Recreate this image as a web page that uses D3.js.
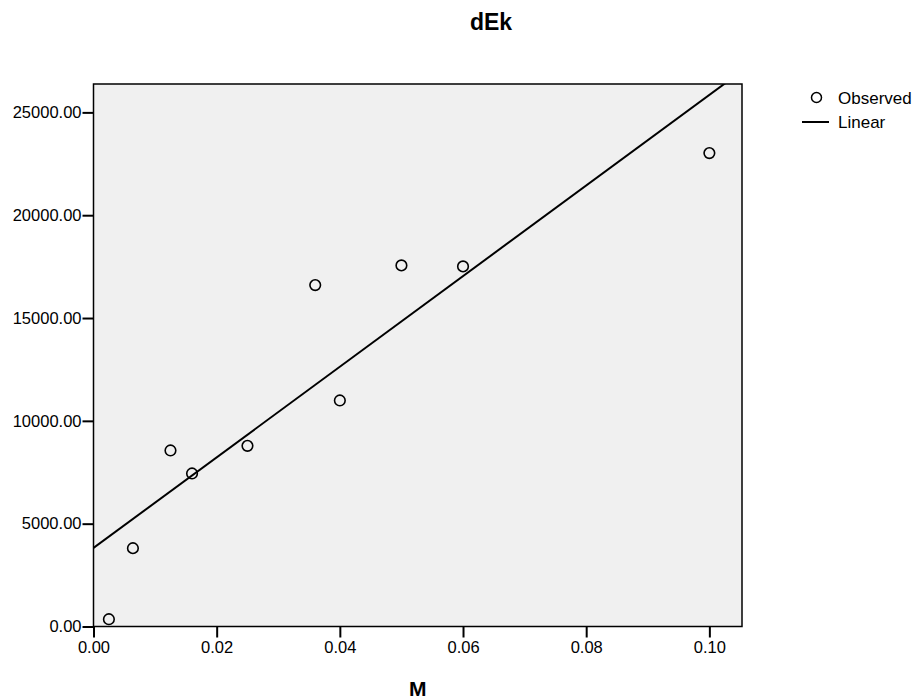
<!DOCTYPE html>
<html>
<head>
<meta charset="utf-8">
<script src="https://cdn.jsdelivr.net/npm/d3@7"></script>
<style>
  html, body { margin: 0; padding: 0; background: #ffffff; }
  svg { display: block; font-family: "Liberation Sans", Arial, sans-serif; }
</style>
</head>
<body>
<svg id="chart" width="916" height="699"></svg>
<script>
// Observed values of dEk against M
const mValues   = [0.0025, 0.0064, 0.0125, 0.016, 0.025, 0.036, 0.04, 0.05, 0.06, 0.10];
const dEkValues = [355, 3808, 8560, 7442, 8784, 16600, 10992, 17558, 17510, 23020];

// Linear model: dEk = intercept + slope * M
const fitIntercept = 3820;
const fitSlope = 220300;

const xTicks = [0, 0.02, 0.04, 0.06, 0.08, 0.10];
const yTicks = [0, 5000, 10000, 15000, 20000, 25000];

const svg = d3.select("#chart");
const plot = { left: 93.5, right: 742, top: 84, bottom: 626.5 };

const x = d3.scaleLinear().domain([0, 0.1053]).range([plot.left, plot.right]);
const y = d3.scaleLinear().domain([0, 26380]).range([plot.bottom, plot.top]);

// plot background
svg.append("rect")
  .attr("x", plot.left).attr("y", plot.top)
  .attr("width", plot.right - plot.left).attr("height", plot.bottom - plot.top)
  .attr("fill", "#f0f0f0");

svg.append("clipPath").attr("id", "plotClip")
  .append("rect")
  .attr("x", plot.left).attr("y", plot.top)
  .attr("width", plot.right - plot.left).attr("height", plot.bottom - plot.top);

// fitted line, clipped to the plot frame
const xEnd = x.domain()[1];
svg.append("line")
  .attr("clip-path", "url(#plotClip)")
  .attr("x1", x(0)).attr("y1", y(fitIntercept))
  .attr("x2", x(xEnd)).attr("y2", y(fitIntercept + fitSlope * xEnd))
  .attr("stroke", "#000").attr("stroke-width", 2);

// observed points
svg.append("g").selectAll("circle")
  .data(mValues.map((m, i) => [m, dEkValues[i]]))
  .join("circle")
  .attr("cx", d => x(d[0])).attr("cy", d => y(d[1]))
  .attr("r", 5.3)
  .attr("fill", "none").attr("stroke", "#000").attr("stroke-width", 1.6);

// frame
svg.append("rect")
  .attr("x", plot.left).attr("y", plot.top)
  .attr("width", plot.right - plot.left).attr("height", plot.bottom - plot.top)
  .attr("fill", "none").attr("stroke", "#000").attr("stroke-width", 1.5);

// axes
const xAxis = d3.axisBottom(x).tickValues(xTicks).tickFormat(d3.format(".2f"))
  .tickSizeInner(11).tickSizeOuter(0).tickPadding(4);
const gx = svg.append("g").attr("transform", `translate(0,${plot.bottom})`).call(xAxis);
gx.select(".domain").remove();
gx.selectAll("line").attr("stroke-width", 2);
gx.selectAll("text").attr("font-size", 16.5).attr("fill", "#000")
  .attr("font-family", "Liberation Sans, Arial, sans-serif");

const yAxis = d3.axisLeft(y).tickValues(yTicks).tickFormat(d3.format(".2f"))
  .tickSizeInner(11).tickSizeOuter(0).tickPadding(1);
const gy = svg.append("g").attr("transform", `translate(${plot.left},0)`).call(yAxis);
gy.select(".domain").remove();
gy.selectAll("line").attr("stroke-width", 2);
gy.selectAll("text").attr("font-size", 16.5).attr("fill", "#000")
  .attr("font-family", "Liberation Sans, Arial, sans-serif");

// titles
svg.append("text")
  .attr("x", 491).attr("y", 29.5)
  .attr("text-anchor", "middle")
  .attr("font-size", 23).attr("font-weight", "bold")
  .text("dEk");

svg.append("text")
  .attr("x", (plot.left + plot.right) / 2).attr("y", 696)
  .attr("text-anchor", "middle")
  .attr("font-size", 21).attr("font-weight", "bold")
  .text("M");

// legend
const legend = svg.append("g");
legend.append("circle")
  .attr("cx", 816.5).attr("cy", 97.5).attr("r", 5)
  .attr("fill", "none").attr("stroke", "#000").attr("stroke-width", 1.5);
legend.append("text")
  .attr("x", 838).attr("y", 104)
  .attr("font-size", 17).text("Observed");
legend.append("line")
  .attr("x1", 802).attr("x2", 829).attr("y1", 122).attr("y2", 122)
  .attr("stroke", "#000").attr("stroke-width", 2);
legend.append("text")
  .attr("x", 838).attr("y", 128)
  .attr("font-size", 17).text("Linear");
</script>
</body>
</html>
